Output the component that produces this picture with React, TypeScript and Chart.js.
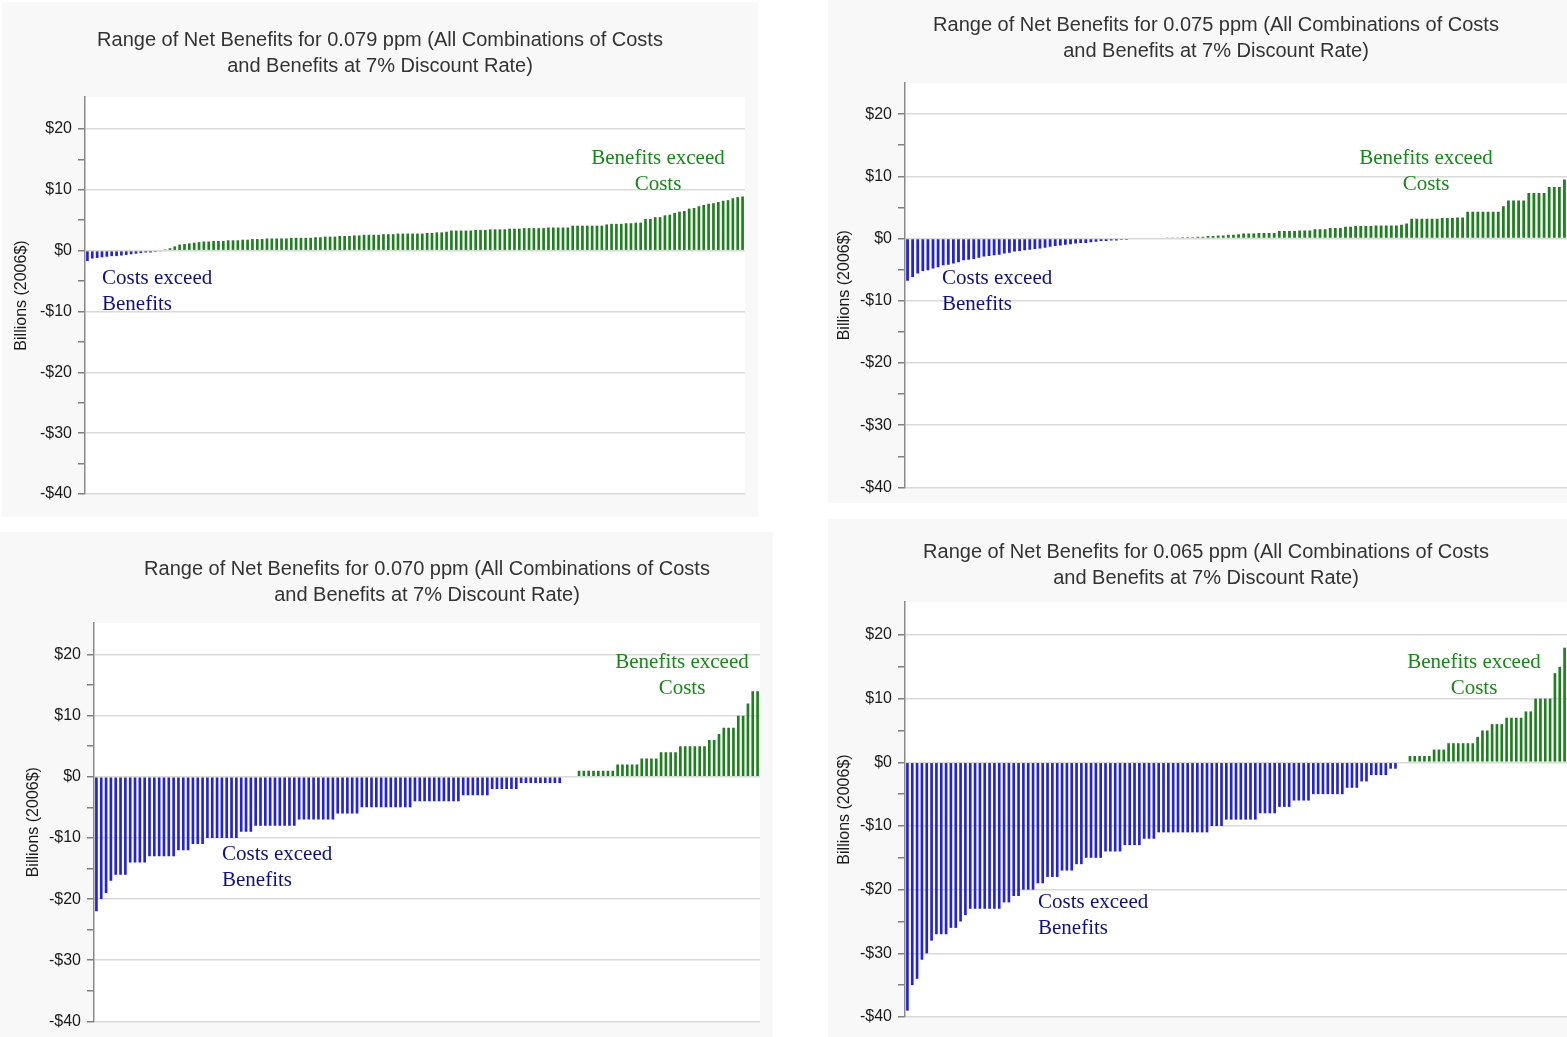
import React, { useEffect, useRef } from 'react';
import { Chart, registerables } from 'chart.js';

Chart.register(...registerables);

// ---------------- DATA ----------------
const titles079 = ['Range of Net Benefits for 0.079 ppm (All Combinations of Costs', 'and Benefits at 7% Discount Rate)'];
const titles075 = ['Range of Net Benefits for 0.075 ppm (All Combinations of Costs', 'and Benefits at 7% Discount Rate)'];
const titles070 = ['Range of Net Benefits for 0.070 ppm (All Combinations of Costs', 'and Benefits at 7% Discount Rate)'];
const titles065 = ['Range of Net Benefits for 0.065 ppm (All Combinations of Costs', 'and Benefits at 7% Discount Rate)'];

// Net benefits (billions 2006$), sorted combinations
const net079 = [
  -1.7, -1.3, -1.2, -1.1, -1.0, -0.9, -0.9, -0.8, -0.7, -0.6, -0.5, -0.4, -0.3, -0.3, -0.2, -0.1,
  0.2, 0.4, 0.7,
  1.0, 1.1, 1.2, 1.3, 1.4,
  1.5, 1.5, 1.6, 1.6, 1.6, 1.7, 1.7, 1.7, 1.8, 1.8,
  1.9, 1.9, 1.9, 2.0, 2.0, 2.0, 2.0, 2.0, 2.1, 2.1, 2.1, 2.1, 2.1,
  2.2, 2.2, 2.3, 2.3, 2.3, 2.4, 2.4, 2.4, 2.5, 2.5,
  2.6, 2.6, 2.6, 2.6, 2.7, 2.7, 2.7, 2.8, 2.8, 2.8,
  2.8, 2.8, 2.8, 2.9, 2.9,
  3.0, 3.0, 3.1,
  3.3, 3.3, 3.3, 3.3, 3.3, 3.4, 3.4, 3.4, 3.5, 3.5, 3.5, 3.5, 3.6, 3.6, 3.6,
  3.7, 3.7, 3.7, 3.7, 3.7, 3.8, 3.8, 3.8, 3.8, 3.8,
  4.1, 4.1, 4.1, 4.1, 4.1, 4.1, 4.1,
  4.3, 4.4, 4.4, 4.4,
  4.5, 4.5, 4.6, 4.6,
  5.2, 5.2, 5.5, 5.5, 5.8, 5.9,
  6.2, 6.4, 6.5,
  6.9, 7.0, 7.3, 7.5, 7.7, 7.8,
  8.0, 8.2, 8.3, 8.6, 8.8, 8.9,
];

const net075 = [
  -6.8, -6.2, -5.6, -5.2, -5.1, -4.8, -4.6, -4.3, -4.2, -4.0, -3.8, -3.5, -3.4, -3.3, -3.1, -2.9,
  -2.8, -2.7, -2.6, -2.4, -2.3, -2.1, -2.0, -1.9, -1.8, -1.7, -1.6, -1.5, -1.3, -1.2, -1.1, -1.0,
  -0.9, -0.8, -0.7, -0.7, -0.6, -0.5, -0.4, -0.4, -0.3, -0.3, -0.2, -0.2, -0.1, -0.1, -0.1, -0.1,
  0, 0, 0,
  0.1, 0.1, 0.1, 0.2, 0.2, 0.2, 0.3, 0.3, 0.4, 0.4, 0.5, 0.5, 0.6, 0.6, 0.7, 0.8, 0.8,
  0.8, 0.9, 0.9, 0.9, 0.9,
  1.2, 1.2, 1.2, 1.2,
  1.3, 1.3, 1.3,
  1.5, 1.5, 1.5,
  1.7, 1.7, 1.7,
  1.9, 1.9, 2.0, 2.0, 2.0, 2.0, 2.1, 2.1, 2.1, 2.1, 2.1, 2.2, 2.4,
  3.2, 3.2, 3.2, 3.2, 3.2, 3.2, 3.3, 3.3, 3.3, 3.4, 3.4,
  4.3, 4.3, 4.3, 4.3, 4.3, 4.3, 4.3,
  5.2,
  6.1, 6.1, 6.1, 6.1,
  7.3, 7.3, 7.3, 7.3,
  8.3, 8.3, 8.3,
  9.5,
];

const net070 = [
  -22, -20, -19, -17, -16, -16, -16, -14, -14, -14, -14,
  -13, -13, -13, -13, -13, -13,
  -12, -12, -12,
  -11, -11, -11,
  -10, -10, -10, -10, -10, -10,
  -10, -9, -9, -9,
  -8, -8, -8, -8, -8, -8, -8, -8, -8,
  -7, -7, -7, -7, -7, -7, -7, -7,
  -6, -6, -6, -6, -6,
  -5, -5, -5, -5, -5, -5, -5, -5, -5, -5, -5,
  -4, -4, -4, -4, -4, -4, -4, -4, -4, -4,
  -3, -3, -3, -3, -3, -3,
  -2, -2, -2, -2, -2, -2,
  -1, -1, -1, -1, -1, -1, -1, -1, -1,
  0, 0, 0,
  1, 1, 1, 1, 1, 1, 1, 1,
  2, 2, 2, 2, 2,
  3, 3, 3, 3,
  4, 4, 4, 4,
  5, 5, 5, 5, 5, 5,
  6, 6,
  7,
  8, 8, 8,
  10, 10,
  12,
  14, 14,
];

const net065 = [
  -39, -35, -34, -31, -30, -28, -27, -27, -27, -26, -26, -25, -24,
  -23, -23, -23, -23, -23, -23, -23,
  -22, -22,
  -21, -21,
  -20, -20, -20,
  -19, -19,
  -18, -18, -18,
  -17, -17, -17,
  -16, -16,
  -15, -15, -15, -15,
  -14, -14, -14, -14,
  -13, -13, -13, -13,
  -12, -12, -12,
  -11, -11, -11, -11, -11, -11, -11, -11, -11, -11, -11,
  -10, -10, -10,
  -9, -9, -9, -9, -9, -9, -9,
  -8, -8, -8, -8,
  -7, -7, -7,
  -6, -6, -6, -6,
  -5, -5, -5, -5, -5, -5, -5,
  -4, -4, -4,
  -3, -3,
  -2, -2, -2, -2,
  -1, -1,
  0, 0,
  1, 1, 1, 1, 1,
  2, 2, 2,
  3, 3, 3, 3, 3, 3,
  4,
  5, 5,
  6, 6, 6,
  7, 7, 7, 7,
  8, 8,
  10, 10, 10, 10,
  14,
  15,
  18,
];

const yTickValues = [-40, -30, -20, -10, 0, 10, 20];
const yAxisTitle = 'Billions (2006$)';
const benefitsNote = ['Benefits exceed', 'Costs'];
const costsNote = ['Costs exceed', 'Benefits'];

// ---------------- STYLE / LAYOUT ----------------
const BLUE = '#2222d8';
const GREEN = '#1d7f1d';
const NOTE_GREEN = '#168a16';
const NOTE_BLUE = '#0f0f88';
const PANEL_BG = '#f8f8f8';

const fmtMoney = (v: number) => (v < 0 ? `-$${-v}` : `$${v}`);

type Spec = {
  title: string[];
  values: number[];
  yMax: number;
  box: { x: number; y: number; w: number; h: number };
  canvasLeft: number;
  canvasRight: number;
  plot: { left: number; right: number; top: number; bottom: number };
  titleY1: number;
  yTitleX: number;
  benefits: { x: number; y: number };
  costs: { x: number; y: number };
};

const specs: Spec[] = [
  {
    title: titles079, values: net079, yMax: 25.25,
    box: { x: 2, y: 2, w: 756, h: 515 },
    canvasLeft: 2, canvasRight: 758,
    plot: { left: 85, right: 745, top: 97, bottom: 494 },
    titleY1: 40, yTitleX: 22,
    benefits: { x: 658, y: 157 }, costs: { x: 102, y: 277 },
  },
  {
    title: titles075, values: net075, yMax: 25,
    box: { x: 828, y: 0, w: 739, h: 503 },
    canvasLeft: 828, canvasRight: 1604,
    plot: { left: 905, right: 1567, top: 83, bottom: 488 },
    titleY1: 25, yTitleX: 845,
    benefits: { x: 1426, y: 157 }, costs: { x: 942, y: 277 },
  },
  {
    title: titles070, values: net070, yMax: 25.15,
    box: { x: 0, y: 532, w: 773, h: 505 },
    canvasLeft: 0, canvasRight: 854,
    plot: { left: 94, right: 760, top: 623, bottom: 1028 },
    titleY1: 569, yTitleX: 34,
    benefits: { x: 682, y: 661 }, costs: { x: 222, y: 853 },
  },
  {
    title: titles065, values: net065, yMax: 25.18,
    box: { x: 828, y: 519, w: 739, h: 518 },
    canvasLeft: 828, canvasRight: 1584,
    plot: { left: 905, right: 1567, top: 602, bottom: 1017 },
    titleY1: 552, yTitleX: 845,
    benefits: { x: 1474, y: 661 }, costs: { x: 1038, y: 901 },
  },
];

const TITLE_SIZE = 20;
const TITLE_LH = 26;
const YT_SIZE = 16;
const YT_LH = 19;
const SANS = "'Liberation Sans', Arial, sans-serif";

const whitePlot = {
  id: 'whitePlot',
  beforeDraw(chart: any) {
    const { ctx, chartArea: a } = chart;
    ctx.save();
    ctx.fillStyle = '#ffffff';
    ctx.fillRect(a.left, a.top, a.right - a.left, a.bottom - a.top);
    ctx.restore();
  },
};

function Panel({ spec }: { spec: Spec }) {
  const ref = useRef<HTMLCanvasElement>(null);
  const cw = spec.canvasRight - spec.canvasLeft;
  const ch = spec.box.h;

  useEffect(() => {
    if (!ref.current) return;
    const top = spec.box.y;
    const titlePadTop = spec.titleY1 - top - TITLE_LH / 2;
    const titlePadBottom = spec.plot.top - top - titlePadTop - 2 * TITLE_LH;
    const yAxisWidth = spec.plot.left - spec.canvasLeft;
    const rightGap = spec.canvasRight - spec.plot.right;
    const yTitlePad = spec.yTitleX - spec.canvasLeft - YT_LH / 2;

    const chart = new Chart(ref.current, {
      type: 'bar',
      data: {
        labels: spec.values.map((_, i) => String(i + 1)),
        datasets: [
          {
            data: spec.values,
            yAxisID: 'y',
            backgroundColor: (c: any) => ((c.raw as number) < 0 ? BLUE : GREEN),
            borderWidth: 0,
            barPercentage: 0.55,
            categoryPercentage: 1,
          },
        ],
      },
      options: {
        animation: false,
        responsive: false,
        maintainAspectRatio: false,
        devicePixelRatio: 1,
        layout: {
          padding: { left: 0, right: 0, top: 0, bottom: top + ch - spec.plot.bottom },
        },
        plugins: {
          legend: { display: false },
          tooltip: { enabled: false },
          title: {
            display: true,
            text: spec.title,
            color: '#333333',
            font: { family: SANS, size: TITLE_SIZE, weight: 'normal', lineHeight: TITLE_LH / TITLE_SIZE },
            padding: { top: titlePadTop, bottom: titlePadBottom },
          },
        },
        scales: {
          x: { display: false },
          y: {
            position: 'left',
            min: -40,
            max: spec.yMax,
            afterFit: (s: any) => {
              s.width = yAxisWidth;
            },
            ticks: {
              stepSize: 5,
              includeBounds: false,
              autoSkip: false,
              padding: 6,
              color: '#1a1a1a',
              font: { family: SANS, size: 16 },
              callback: (v: any) => (yTickValues.includes(Number(v)) ? fmtMoney(Number(v)) : ''),
            },
            grid: {
              color: (c: any) => (c.tick && yTickValues.includes(c.tick.value) ? '#dadada' : 'rgba(0,0,0,0)'),
              tickColor: (c: any) => (c.tick && c.tick.value > 20 ? 'rgba(0,0,0,0)' : '#808080'),
              lineWidth: 1.5,
              tickLength: 7,
              drawTicks: true,
            },
            border: { color: '#8a8a8a', width: 1.5 },
            title: {
              display: true,
              text: yAxisTitle,
              color: '#1a1a1a',
              font: { family: SANS, size: YT_SIZE, lineHeight: YT_LH / YT_SIZE },
              padding: { top: yTitlePad, bottom: 0 },
            },
          },
          yPad: {
            position: 'right',
            display: true,
            afterFit: (s: any) => {
              s.width = rightGap;
            },
            ticks: { display: false },
            grid: { display: false, drawTicks: false },
            border: { display: false },
          },
        },
      },
      plugins: [whitePlot],
    } as any);
    return () => chart.destroy();
  }, [spec]);

  const noteFont: React.CSSProperties = {
    position: 'absolute',
    fontFamily: "'Liberation Serif', 'Times New Roman', serif",
    fontSize: 21,
    lineHeight: '26px',
    whiteSpace: 'nowrap',
  };

  return (
    <>
      <div
        style={{
          position: 'absolute',
          left: spec.box.x,
          top: spec.box.y,
          width: spec.box.w,
          height: spec.box.h,
          background: PANEL_BG,
          overflow: 'hidden',
        }}
      >
        <canvas
          ref={ref}
          width={cw}
          height={ch}
          style={{ position: 'absolute', left: spec.canvasLeft - spec.box.x, top: 0, width: cw, height: ch }}
        />
      </div>
      <div
        style={{
          ...noteFont,
          left: spec.benefits.x,
          top: spec.benefits.y - 13,
          transform: 'translateX(-50%)',
          textAlign: 'center',
          color: NOTE_GREEN,
        }}
      >
        {benefitsNote[0]}
        <br />
        {benefitsNote[1]}
      </div>
      <div
        style={{
          ...noteFont,
          left: spec.costs.x,
          top: spec.costs.y - 13,
          textAlign: 'left',
          color: NOTE_BLUE,
        }}
      >
        {costsNote[0]}
        <br />
        {costsNote[1]}
      </div>
    </>
  );
}

export default function App() {
  return (
    <div
      style={{
        position: 'absolute',
        left: 0,
        top: 0,
        width: 1567,
        height: 1037,
        background: '#ffffff',
        overflow: 'hidden',
      }}
    >
      {specs.map((s, i) => (
        <Panel key={i} spec={s} />
      ))}
    </div>
  );
}
